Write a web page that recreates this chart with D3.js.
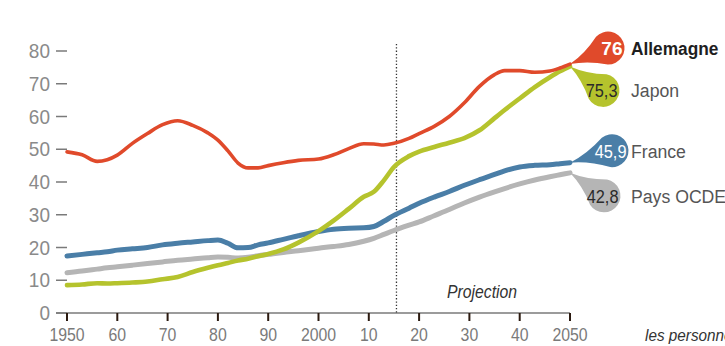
<!DOCTYPE html>
<html>
<head>
<meta charset="utf-8">
<script src="https://cdn.jsdelivr.net/npm/d3@7"></script>
<style>
  html, body { margin: 0; padding: 0; background: #fff; }
  svg { display: block; font-family: "Liberation Sans", Arial, sans-serif; }
</style>
</head>
<body>
<svg id="chart" width="725" height="346"></svg>
<script>
// Ratio of people aged 65+ to working-age population (%), 1950–2050
const years = [1950, 1953, 1956, 1958, 1960, 1963, 1966, 1969, 1972, 1975, 1978, 1980, 1982, 1984, 1986, 1988, 1990, 1993, 1996, 2000, 2003, 2006, 2009, 2011, 2013, 2015, 2018, 2020, 2023, 2026, 2029, 2032, 2035, 2037, 2040, 2043, 2046, 2048, 2050];

const allemagne = [49.2, 48.3, 46.3, 46.8, 48.2, 51.8, 54.8, 57.5, 58.7, 57.3, 55.0, 52.8, 49.5, 45.8, 44.3, 44.3, 45.0, 45.9, 46.6, 47.0, 48.3, 50.2, 51.7, 51.6, 51.3, 51.8, 53.3, 54.8, 57.0, 60.0, 64.2, 69.2, 72.8, 74.0, 74.0, 73.5, 73.9, 74.8, 76];
const japon = [8.5, 8.7, 9.1, 9.0, 9.1, 9.3, 9.6, 10.3, 11.0, 12.5, 13.8, 14.6, 15.3, 16.0, 16.6, 17.3, 18.0, 19.4, 21.5, 25.0, 28.2, 31.8, 35.5, 37.0, 40.5, 44.6, 47.9, 49.3, 50.7, 52.0, 53.4, 55.8, 59.5, 62.0, 65.5, 69.0, 72.0, 73.8, 75.3];
const france = [17.4, 17.9, 18.4, 18.7, 19.2, 19.6, 20.0, 20.8, 21.3, 21.7, 22.1, 22.3, 21.3, 19.9, 20.0, 20.8, 21.4, 22.5, 23.6, 24.9, 25.6, 25.9, 26.0, 26.4, 28.0, 29.8, 32.0, 33.5, 35.4, 37.1, 39.0, 40.7, 42.3, 43.4, 44.6, 45.1, 45.3, 45.6, 45.9];
const paysOCDE = [12.3, 12.8, 13.4, 13.8, 14.1, 14.6, 15.1, 15.6, 16.1, 16.5, 16.9, 17.1, 17.0, 16.8, 17.0, 17.5, 17.9, 18.5, 19.0, 19.8, 20.3, 20.9, 21.9, 22.8, 24.0, 25.2, 26.8, 27.8, 29.7, 31.6, 33.6, 35.4, 37.0, 38.0, 39.4, 40.6, 41.6, 42.2, 42.8];

const seriesNames = ["Pays OCDE", "France", "Japon", "Allemagne"];
const seriesValues = [paysOCDE, france, japon, allemagne];
const endLabels = ["42,8", "45,9", "75,3", "76"];

const xTicks = [1950, 1960, 1970, 1980, 1990, 2000, 2010, 2020, 2030, 2040, 2050];
const xTickLabels = ["1950", "60", "70", "80", "90", "2000", "10", "20", "30", "40", "2050"];
const yTicks = [0, 10, 20, 30, 40, 50, 60, 70, 80];
const projectionStart = 2015.5;

// Styling
const colors = { "Allemagne": "#e04a2b", "Japon": "#b5c32d", "France": "#4a7ea7", "Pays OCDE": "#b5b5b5" };
const widths = { "Allemagne": 3.6, "Japon": 4.6, "France": 5, "Pays OCDE": 5 };
const numberFill = { "Allemagne": "#fff", "Japon": "#2a2a2a", "France": "#fff", "Pays OCDE": "#2a2a2a" };
// bubble center offset from the line end, in px
const bubbleOffset = { "Allemagne": [38, -16], "Japon": [33, 24], "France": [42, -12], "Pays OCDE": [34, 23] };

const svg = d3.select("#chart");
const x = d3.scaleLinear().domain([1950, 2050]).range([67, 570]);
const y = d3.scaleLinear().domain([0, 80]).range([313, 51]);

// text with a horizontal squeeze, to get a narrow face from a regular font
function label(parent, tx, ty, str, o) {
  return parent.append("text")
    .attr("transform", `translate(${tx},${ty}) scale(${o.sx || 1},1)`)
    .attr("text-anchor", o.anchor || "start")
    .attr("font-size", o.size)
    .attr("font-weight", o.weight || "normal")
    .attr("font-style", o.style || "normal")
    .attr("fill", o.fill)
    .text(str);
}

// y axis: labels and short dashes
const yAxis = svg.append("g");
yAxis.selectAll("line").data(yTicks).join("line")
  .attr("x1", 56).attr("x2", 67)
  .attr("y1", d => y(d)).attr("y2", d => y(d))
  .attr("stroke", "#7a7a7a").attr("stroke-width", 1.5);
yTicks.forEach(d => label(yAxis, 50, y(d) + 7, d, { anchor: "end", size: 20, sx: 0.95, fill: "#8a8a8a" }));

// x axis baseline and decade ticks
svg.append("line")
  .attr("x1", 56).attr("x2", x(2050))
  .attr("y1", y(0)).attr("y2", y(0))
  .attr("stroke", "#7a7a7a").attr("stroke-width", 1.6);
const xAxis = svg.append("g");
xAxis.selectAll("line").data(xTicks).join("line")
  .attr("x1", d => x(d)).attr("x2", d => x(d))
  .attr("y1", y(0)).attr("y2", y(0) + 8)
  .attr("stroke", "#2b1a10").attr("stroke-width", 2);
xTicks.forEach((d, i) => label(xAxis, x(d), 341, xTickLabels[i], { anchor: "middle", size: 18, sx: 0.88, fill: "#7a7a7a" }));

// projection marker
svg.append("line")
  .attr("x1", x(projectionStart)).attr("x2", x(projectionStart))
  .attr("y1", 44).attr("y2", y(0))
  .attr("stroke", "#333").attr("stroke-width", 1.3)
  .attr("stroke-dasharray", "1.3,2");
label(svg, 482, 298, "Projection", { anchor: "middle", size: 19, sx: 0.83, style: "italic", fill: "#333" });

label(svg, 645, 341, "les personnes", { size: 17, sx: 0.9, style: "italic", fill: "#333" });

// series lines
const line = d3.line()
  .x((d, i) => x(years[i]))
  .y(d => y(d))
  .curve(d3.curveMonotoneX);

svg.append("g").selectAll("path").data(seriesValues).join("path")
  .attr("d", d => line(d))
  .attr("fill", "none")
  .attr("stroke", (d, i) => colors[seriesNames[i]])
  .attr("stroke-width", (d, i) => widths[seriesNames[i]])
  .attr("stroke-linecap", "round")
  .attr("stroke-linejoin", "round");

// teardrop bubble from the line end to the value label
function teardrop(tx, ty, cx, cy, r) {
  const dx = tx - cx, dy = ty - cy;
  const d = Math.hypot(dx, dy);
  const a = Math.atan2(dy, dx);
  const b = Math.acos(r / d);
  const p1 = [cx + r * Math.cos(a + b), cy + r * Math.sin(a + b)];
  const p2 = [cx + r * Math.cos(a - b), cy + r * Math.sin(a - b)];
  const ax = cx + dx * 0.55, ay = cy + dy * 0.55;
  const c1 = [((p1[0] + tx) / 2 + ax) / 2, ((p1[1] + ty) / 2 + ay) / 2];
  const c2 = [((p2[0] + tx) / 2 + ax) / 2, ((p2[1] + ty) / 2 + ay) / 2];
  return `M${tx},${ty}Q${c1[0]},${c1[1]} ${p1[0]},${p1[1]}` +
         `A${r},${r} 0 1 1 ${p2[0]},${p2[1]}` +
         `Q${c2[0]},${c2[1]} ${tx},${ty}Z`;
}

const r = 16.5;
const labels = svg.append("g");
seriesNames.forEach((name, i) => {
  const vals = seriesValues[i];
  const tx = x(years[years.length - 1]);
  const ty = y(vals[vals.length - 1]);
  const cx = tx + bubbleOffset[name][0];
  const cy = ty + bubbleOffset[name][1];
  const g = labels.append("g");
  g.append("path")
    .attr("d", teardrop(tx, ty, cx, cy, r))
    .attr("fill", colors[name]);
  const bold = name === "Allemagne";
  label(g, cx + r - 2, cy + 7, endLabels[i], {
    anchor: "end", size: 19, sx: bold ? 1 : 0.86,
    weight: bold ? "bold" : "normal", fill: numberFill[name]
  });
  label(g, 631, cy + 7, name, {
    size: 19, sx: bold ? 0.91 : 0.93,
    weight: bold ? "bold" : "normal", fill: bold ? "#1e1e1e" : "#555"
  });
});
</script>
</body>
</html>
